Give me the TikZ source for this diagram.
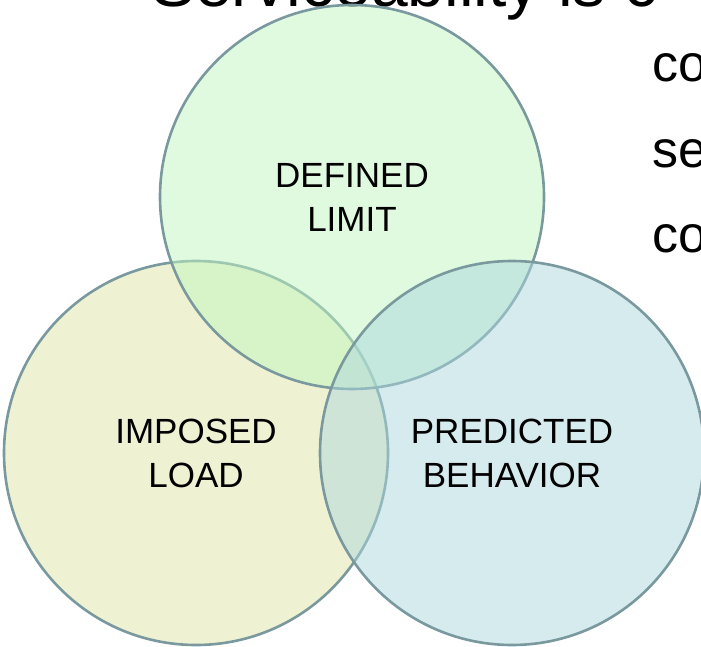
\documentclass[tikz,border=0pt]{standalone}
\usepackage{fontspec}
\setmainfont{Liberation Sans}
\definecolor{vennline}{RGB}{122,153,158}
\definecolor{limitfill}{RGB}{192,246,192}
\definecolor{loadfill}{RGB}{223,229,165}
\definecolor{behavfill}{RGB}{171,215,221}

\begin{document}
\begin{tikzpicture}[x=1pt,y=1pt,
  venn/.style={circle, draw=vennline, line width=2.6pt, fill opacity=0.5, text opacity=1,
    minimum size=384pt, inner sep=0pt, align=center, font=\fontsize{35}{44}\selectfont},
  body/.style={anchor=base west, inner sep=0pt, font=\fontsize{52}{60}\selectfont}]
\useasboundingbox (0,0) rectangle (701,646);
% slide text behind the diagram
\node[anchor=base west, inner sep=0pt, font=\fontsize{66}{70}\selectfont] (title) at (151,639) {Serviceability is c};
\foreach \w [count=\i] in {co,se,co}
  \node[body] (line\i) at (652,{564-85.5*(\i-1)}) {\w};
% the three circles
\node[venn, fill=loadfill] (load) at (196,193) {IMPOSED\\LOAD};
\node[venn, fill=limitfill] (limit) at (352,449) {DEFINED\\LIMIT};
\node[venn, fill=behavfill] (behavior) at (512,193) {PREDICTED\\BEHAVIOR};
\end{tikzpicture}
\end{document}
